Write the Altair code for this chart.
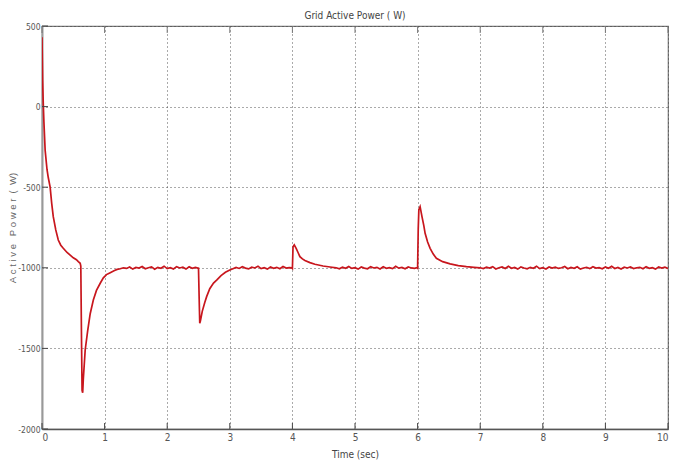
import altair as alt
import pandas as pd

# ---- data ----
start_t = [0, 0.01, 0.02, 0.03, 0.05, 0.08, 0.10, 0.13, 0.155, 0.18, 0.22, 0.26, 0.30, 0.34, 0.40, 0.45,
           0.50, 0.55, 0.58, 0.61, 0.62, 0.63, 0.64, 0.65, 0.66, 0.69, 0.73, 0.77, 0.82, 0.87,
           0.93, 0.98, 1.03, 1.09, 1.15, 1.20, 1.25, 1.30]
start_v = [430, 160, 20, -90, -270, -390, -440, -500, -600, -683, -765, -828, -860, -879, -905, -921,
           -938, -950, -962, -972, -990, -1400, -1760, -1775, -1690, -1510, -1390, -1285, -1200, -1140,
           -1096, -1062, -1042, -1030, -1018, -1010, -1006, -1000]

flat_b_v = [-1004, -995, -1008, -998, -1002, -992, -1006, -1000, -994, -1009, -997, -1003, -990,
            -1005, -999, -1007, -993, -1001, -996, -1008, -994, -1003, -998]

dip_t = [2.49, 2.50, 2.51, 2.52, 2.53, 2.56, 2.60, 2.63, 2.68, 2.74, 2.79, 2.86, 2.93, 3.00]
dip_v = [-1002, -1003, -1180, -1344, -1330, -1270, -1215, -1179, -1130, -1095, -1076, -1048, -1028, -1014]

flat_c_v = [-1006, -998, -1004, -993, -1002, -1007, -996, -1001, -990, -1005, -999, -1008, -995,
            -1003, -997, -1006, -992, -1002, -999]

spike1_t = [3.99, 4.00, 4.01, 4.03, 4.06, 4.09, 4.12, 4.16, 4.20, 4.28, 4.36, 4.49, 4.60, 4.70]
spike1_v = [-1000, -1004, -870, -858, -880, -905, -931, -945, -955, -968, -978, -989, -995, -1000]

flat_d_v = [-1006, -996, -1003, -992, -1004, -999, -1008, -995, -1002, -1006, -993, -1001, -997,
            -1007, -994, -1003, -999, -1005, -991, -1002, -998, -1006, -995, -1001, -1004]

spike2_t = [5.99, 6.00, 6.01, 6.02, 6.04, 6.07, 6.10, 6.12, 6.16, 6.20, 6.25, 6.30, 6.40, 6.52,
            6.65, 6.78, 6.90, 7.00]
spike2_v = [-1000, -1003, -760, -640, -621, -683, -740, -786, -840, -879, -915, -941, -962, -976,
            -986, -993, -997, -1000]

flat_e_v = [-1005, -996, -1002, -993, -1007, -1000, -995, -1004, -991, -1003,
            -998, -1008, -994, -1001, -1006, -997, -1003, -990, -1005, -999,
            -1007, -995, -1002, -996, -1004, -1000, -992, -1006, -998, -1003,
            -994, -1008, -1001, -997, -1005, -993, -1002, -999, -1006, -995,
            -1003, -991, -1004, -998, -1007, -996, -1001, -994, -1005, -1000,
            -997, -1006, -993, -1003, -999, -1008, -995, -1002, -996, -1004]

x_ticks = [0, 1, 2, 3, 4, 5, 6, 7, 8, 9, 10]
y_ticks = [500, 0, -500, -1000, -1500, -2000]

NB = "\u00a0"
y_title = NB.join("Active") + NB * 3 + NB.join("Power") + NB * 2 + "(" + NB * 2 + "W)"


def flat_times(start, vals):
    return [round(start + 0.05 * i, 2) for i in range(len(vals))]


t_all = (start_t + flat_times(1.35, flat_b_v) + dip_t + flat_times(3.05, flat_c_v)
         + spike1_t + flat_times(4.75, flat_d_v) + spike2_t + flat_times(7.05, flat_e_v))
v_all = start_v + flat_b_v + dip_v + flat_c_v + spike1_v + flat_d_v + spike2_v + flat_e_v

df = pd.DataFrame({"t": t_all, "p": v_all, "o": range(len(t_all))})
xt = pd.DataFrame({"t": x_ticks})
yt = pd.DataFrame({"p": y_ticks})

FONT = "'Liberation Sans Narrow', 'DejaVu Sans Condensed', 'Arial Narrow', 'Liberation Sans'"
W, H = 626, 403

xscale = alt.Scale(domain=[0, 10], nice=False, zero=False)
yscale = alt.Scale(domain=[-2000, 500], nice=False, zero=False)

line = alt.Chart(df).mark_line(color="#c8161d", strokeWidth=1.7, clip=True).encode(
    x=alt.X("t:Q", scale=xscale,
            axis=alt.Axis(values=x_ticks, title="Time (sec)", grid=True, gridDash=[1, 3],
                          gridColor="#444", gridOpacity=0.9, tickSize=0, labelPadding=3,
                          labelExpr="toString(datum.value)",
                          domainColor="#555", domainWidth=1.5,
                          labelColor="#555", labelFont=FONT, labelFontSize=10,
                          titleColor="#444", titleFont=FONT, titleFontSize=10,
                          titleFontWeight="normal", titlePadding=7)),
    y=alt.Y("p:Q", scale=yscale,
            axis=alt.Axis(values=y_ticks, title=y_title, grid=True,
                          gridDash=[1, 3], gridColor="#444", gridOpacity=0.9, tickSize=0,
                          labelPadding=2, labelExpr="toString(datum.value)",
                          domainColor="#999", domainWidth=2,
                          labelColor="#555", labelFont=FONT, labelFontSize=8.5,
                          titleColor="#666", titleFont="Liberation Sans", titleFontSize=9.5,
                          titleFontWeight="normal", titleX=-30, titleY=H / 2,
                          titleAlign="center", titleBaseline="middle", titleAngle=270)),
    order="o:Q",
)

xticks_bottom = alt.Chart(xt).mark_rule(color="#444", strokeWidth=1).encode(
    x=alt.X("t:Q", scale=xscale), y=alt.value(H), y2=alt.value(H - 6))
xticks_top = alt.Chart(xt).mark_rule(color="#777", strokeWidth=1).encode(
    x=alt.X("t:Q", scale=xscale), y=alt.value(0), y2=alt.value(7))
yticks_left = alt.Chart(yt).mark_rule(color="#444", strokeWidth=1).encode(
    y=alt.Y("p:Q", scale=yscale), x=alt.value(0), x2=alt.value(6))

chart = alt.layer(line, xticks_bottom, xticks_top, yticks_left).properties(
    width=W, height=H,
    title=alt.TitleParams("Grid Active Power ( W)", font=FONT, fontSize=10,
                          fontWeight="normal", color="#444", offset=1),
    autosize=alt.AutoSizeParams(type="none"),
    padding={"left": 34, "top": 18, "right": 7, "bottom": 36},
    background="white",
).configure_view(stroke="#777", strokeWidth=1.2)

chart.save("out.html", embed_options={"renderer": "svg", "actions": False})
